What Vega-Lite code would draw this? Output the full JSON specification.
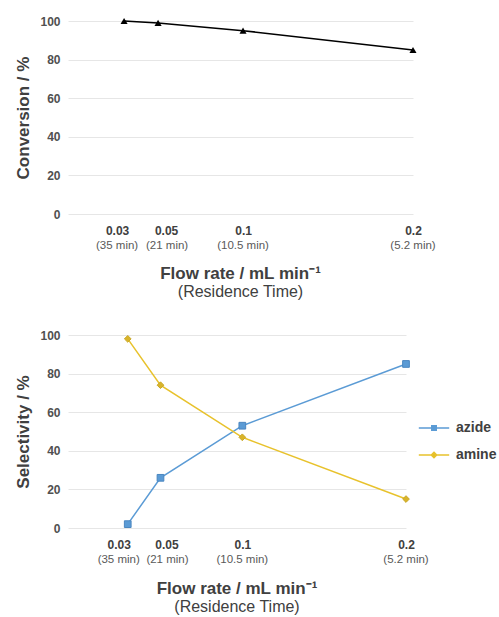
{
  "$schema": "https://vega.github.io/schema/vega-lite/v6.json",
  "padding": {"top": 15, "left": 14, "right": 5, "bottom": 0},
  "background": "white",
  "spacing": 29,
  "config": {
    "font": "Liberation Sans",
    "view": {"stroke": null},
    "axis": {
      "domain": false,
      "ticks": false,
      "tickSize": 0,
      "gridColor": "#e6e6e6",
      "gridWidth": 1,
      "labelFont": "Liberation Sans",
      "labelFontSize": 12,
      "labelFontWeight": "bold",
      "labelColor": "#404040",
      "titleFont": "Liberation Sans",
      "titleFontSize": 17,
      "titleFontWeight": "bold",
      "titleColor": "#404040"
    },
    "axisX": {"grid": false, "labelPadding": 11, "labelOverlap": false, "labelFlush": false},
    "axisY": {"labelPadding": 8, "titlePadding": 7, "labelOverlap": false, "labelColor": "#505050"},
    "legend": {"padding": 0},
    "title": {"font": "Liberation Sans", "subtitleFont": "Liberation Sans"}
  },
  "datasets": {
    "conv": [
      {"flow": 0.03, "conversion": 100},
      {"flow": 0.05, "conversion": 99},
      {"flow": 0.1, "conversion": 95},
      {"flow": 0.2, "conversion": 85}
    ],
    "ticks": [
      {"flow": 0.03, "time": "(35 min)"},
      {"flow": 0.05, "time": "(21 min)"},
      {"flow": 0.1, "time": "(10.5 min)"},
      {"flow": 0.2, "time": "(5.2 min)"}
    ],
    "sel": [
      {"flow": 0.03, "product": "azide", "selectivity": 2},
      {"flow": 0.05, "product": "azide", "selectivity": 26},
      {"flow": 0.1, "product": "azide", "selectivity": 53},
      {"flow": 0.2, "product": "azide", "selectivity": 85},
      {"flow": 0.03, "product": "amine", "selectivity": 98},
      {"flow": 0.05, "product": "amine", "selectivity": 74},
      {"flow": 0.1, "product": "amine", "selectivity": 47},
      {"flow": 0.2, "product": "amine", "selectivity": 15}
    ]
  },
  "vconcat": [
    {
      "width": 345,
      "height": 193,
      "title": {
        "text": "Flow rate / mL min⁻¹",
        "subtitle": "(Residence Time)",
        "orient": "bottom",
        "anchor": "middle",
        "frame": "group",
        "fontSize": 17,
        "fontWeight": "bold",
        "color": "#404040",
        "subtitleFontSize": 16,
        "subtitleColor": "#404040",
        "subtitlePadding": 1,
        "offset": 14
      },
      "encoding": {
        "x": {"field": "flow", "type": "quantitative", "scale": {"domain": [-0.003, 0.2], "nice": false, "zero": false},
          "axis": {"title": null, "values": [0.03, 0.05, 0.1, 0.2], "labelExpr": "'' + datum.value",
            "labelOffset": {"condition": [{"test": "datum.value == 0.03", "value": -7}, {"test": "datum.value == 0.05", "value": 8}], "value": 0}}}
      },
      "layer": [
        {
          "data": {"name": "conv"},
          "mark": {"type": "line", "color": "black", "strokeWidth": 1.5},
          "encoding": {
            "y": {"field": "conversion", "type": "quantitative", "scale": {"domain": [0, 100], "nice": false},
              "axis": {"title": "Conversion / %", "values": [0, 20, 40, 60, 80, 100]}}
          }
        },
        {
          "data": {"name": "conv"},
          "mark": {"type": "point", "shape": "triangle-up", "filled": true, "color": "black", "size": 50, "opacity": 1},
          "encoding": {
            "y": {"field": "conversion", "type": "quantitative",
              "axis": {"title": "Conversion / %", "values": [0, 20, 40, 60, 80, 100]}}
          }
        },
        {
          "data": {"name": "ticks"},
          "mark": {"type": "text", "fontSize": 11.5, "color": "#595959", "baseline": "middle", "font": "Liberation Sans",
            "dx": {"expr": "datum.flow == 0.03 ? -7 : datum.flow == 0.05 ? 9 : 0"}},
          "encoding": {
            "y": {"datum": -16.6, "axis": {"title": "Conversion / %", "values": [0, 20, 40, 60, 80, 100]}},
            "text": {"field": "time"}
          }
        }
      ]
    },
    {
      "width": 338,
      "height": 193,
      "title": {
        "text": "Flow rate / mL min⁻¹",
        "subtitle": "(Residence Time)",
        "orient": "bottom",
        "anchor": "middle",
        "frame": "group",
        "fontSize": 17,
        "fontWeight": "bold",
        "color": "#404040",
        "subtitleFontSize": 16,
        "subtitleColor": "#404040",
        "subtitlePadding": 1,
        "offset": 15
      },
      "encoding": {
        "x": {"field": "flow", "type": "quantitative", "scale": {"domain": [-0.0065, 0.2], "nice": false, "zero": false},
          "axis": {"title": null, "values": [0.03, 0.05, 0.1, 0.2], "labelExpr": "'' + datum.value",
            "labelOffset": {"condition": [{"test": "datum.value == 0.03", "value": -9}, {"test": "datum.value == 0.05", "value": 6}], "value": 0}}}
      },
      "layer": [
        {
          "data": {"name": "sel"},
          "mark": {"type": "line", "strokeWidth": 1.5},
          "encoding": {
            "y": {"field": "selectivity", "type": "quantitative", "scale": {"domain": [0, 100], "nice": false},
              "axis": {"title": "Selectivity / %", "values": [0, 20, 40, 60, 80, 100]}},
            "color": {"field": "product", "type": "nominal", "sort": ["azide", "amine"],
              "scale": {"domain": ["azide", "amine"], "range": ["#5b9bd5", "#e8c22c"]},
              "legend": {"title": null, "orient": "none", "legendX": 359, "legendY": 86, "rowPadding": 13,
                "symbolSize": 80, "symbolStrokeWidth": 1.5, "labelOffset": 15, "labelFontSize": 14, "labelFontWeight": "bold", "labelColor": "#404040",
                "labelFont": "Liberation Sans",
                "encode": {"symbols": {"update": {
                  "shape": {"signal": "datum.value == 'azide' ? 'M-3.4,0H3.4M-0.5,-0.5H0.5V0.5H-0.5Z' : 'M-3.4,0H3.4M0,-0.6L0.6,0L0,0.6L-0.6,0Z'"},
                  "stroke": {"signal": "datum.value == 'azide' ? '#5b9bd5' : '#e8c22c'"},
                  "fill": {"signal": "datum.value == 'azide' ? '#5b9bd5' : '#d9b42a'"},
                  "strokeWidth": {"value": 1.5}}}}}}
          }
        },
        {
          "data": {"name": "sel"},
          "transform": [{"filter": "datum.product == 'azide'"}],
          "mark": {"type": "point", "shape": "square", "filled": true, "size": 45, "opacity": 1, "color": "#5b9bd5", "stroke": "#4a86c0", "strokeWidth": 1},
          "encoding": {
            "y": {"field": "selectivity", "type": "quantitative",
              "axis": {"title": "Selectivity / %", "values": [0, 20, 40, 60, 80, 100]}}
          }
        },
        {
          "data": {"name": "sel"},
          "transform": [{"filter": "datum.product == 'amine'"}],
          "mark": {"type": "point", "shape": "diamond", "filled": true, "size": 45, "opacity": 1, "color": "#d9b42a", "stroke": "#c9a828", "strokeWidth": 1},
          "encoding": {
            "y": {"field": "selectivity", "type": "quantitative",
              "axis": {"title": "Selectivity / %", "values": [0, 20, 40, 60, 80, 100]}}
          }
        },
        {
          "data": {"name": "ticks"},
          "mark": {"type": "text", "fontSize": 11.5, "color": "#595959", "baseline": "middle", "font": "Liberation Sans",
            "dx": {"expr": "datum.flow == 0.03 ? -9 : datum.flow == 0.05 ? 7 : 0"}},
          "encoding": {
            "y": {"datum": -16.8, "axis": {"title": "Selectivity / %", "values": [0, 20, 40, 60, 80, 100]}},
            "text": {"field": "time"}
          }
        }
      ]
    }
  ],
  "resolve": {"scale": {"color": "independent"}}
}
